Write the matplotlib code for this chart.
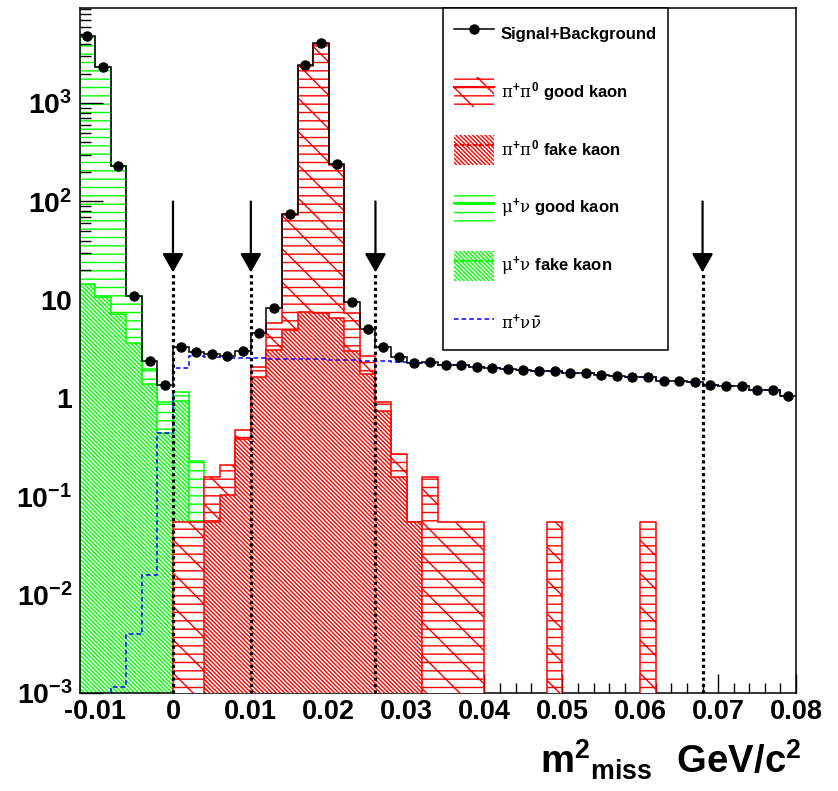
import numpy as np
import matplotlib
matplotlib.use("Agg")
import matplotlib.pyplot as plt
from matplotlib.patches import Patch
from matplotlib.lines import Line2D
from matplotlib.ticker import MultipleLocator, LogLocator, NullFormatter

plt.rcParams['font.family'] = ['Liberation Sans', 'DejaVu Sans']
plt.rcParams['font.weight'] = 'bold'
plt.rcParams['mathtext.fontset'] = 'custom'
plt.rcParams['mathtext.rm'] = 'Liberation Sans:bold'
plt.rcParams['mathtext.bf'] = 'Liberation Sans:bold'
plt.rcParams['mathtext.it'] = 'DejaVu Serif:normal'
plt.rcParams['hatch.linewidth'] = 1.0

# binning: 46 bins of 0.002 GeV^2/c^4 from -0.012 to 0.080
bin_lo, bin_w, n_bins = -0.012, 0.002, 46

# visible heights of each histogram (events per bin)
sig_bkg = [4830, 2320, 230, 11.0, 2.37, 1.36, 3.33, 2.92, 2.79, 2.68,
           3.01, 4.63, 8.19, 75, 2430, 4130, 239, 9.43, 5.0, 3.29,
           2.6, 2.29, 2.35, 2.17, 2.17, 2.09, 2.04, 1.99, 1.95, 1.90,
           1.90, 1.79, 1.79, 1.72, 1.68, 1.63, 1.63, 1.49, 1.50, 1.45,
           1.35, 1.32, 1.33, 1.20, 1.20, 1.06]
pinunu = [0, 0, 0.00115, 0.004, 0.0158, 0.44, 2.01, 2.65, 2.6, 2.58,
          2.55, 2.53, 2.52, 2.5, 2.48, 2.47, 2.45, 2.43, 2.4, 2.38,
          2.33, 2.29, 2.3, 2.17, 2.17, 2.09, 2.04, 1.99, 1.95, 1.90,
          1.90, 1.79, 1.79, 1.72, 1.68, 1.63, 1.63, 1.49, 1.50, 1.45,
          1.35, 1.32, 1.33, 1.20, 1.20, 1.06]
pipi0_good = [0, 0, 0, 0, 0, 0, 0.055, 0.055, 0.159, 0.209,
              0.473, 2.09, 5.77, 73, 2410, 4000, 235, 7.3, 2.68, 0.92,
              0.268, 0.055, 0.159, 0.055, 0.055, 0.055, 0, 0, 0, 0,
              0.055, 0, 0, 0, 0, 0, 0.055, 0, 0, 0,
              0, 0, 0, 0, 0, 0]
pipi0_fake = [0, 0, 0, 0, 0, 0, 0, 0, 0.055, 0.103,
              0.38, 1.65, 3.08, 4.93, 7.57, 7.3, 6.5, 3.0, 1.76, 0.745,
              0.159, 0.055, 0, 0, 0, 0, 0, 0, 0, 0,
              0, 0, 0, 0, 0, 0, 0, 0, 0, 0,
              0, 0, 0, 0, 0, 0]
munu_good = [4750, 2320, 231, 10.9, 2.0, 0.92, 1.16, 0.227, 0, 0] + [0] * 36
munu_fake = [14.4, 10.6, 7.2, 3.6, 1.39, 0.44, 0.93, 0, 0, 0] + [0] * 36

cuts = [0.0, 0.010, 0.026, 0.068]
arrow_top, arrow_tip = 100, 19

xticks = [-0.01, 0, 0.01, 0.02, 0.03, 0.04, 0.05, 0.06, 0.07, 0.08]
xticklabels = ['-0.01', '0', '0.01', '0.02', '0.03', '0.04', '0.05', '0.06', '0.07', '0.08']
yticks = [1e-3, 1e-2, 1e-1, 1, 10, 1e2, 1e3]
yticklabels = [r'$10^{-3}$', r'$10^{-2}$', r'$10^{-1}$', r'$1$', r'$10$', r'$10^{2}$', r'$10^{3}$']

labels = ['Signal+Background',
          r'$\pi^{+}\pi^{0}$ good kaon',
          r'$\pi^{+}\pi^{0}$ fake kaon',
          r'$\mu^{+}\nu$ good kaon',
          r'$\mu^{+}\nu$ fake kaon',
          r'$\pi^{+}\nu\bar{\nu}$']

edges = np.round(bin_lo + bin_w * np.arange(n_bins + 1), 4)
centers = 0.5 * (edges[:-1] + edges[1:])
floor = 1e-6


def clip(v):
    return np.clip(np.asarray(v, dtype=float), floor, None)


GREEN = '#00ff00'
RED = '#ff0000'
good_hatch = '\\--'
fake_hatch = '\\' * 8

fig = plt.figure(figsize=(8.38, 7.91), dpi=100)
ax = fig.add_axes([0.0949, 0.1239, 0.855, 0.866])

ax.stairs(clip(munu_good), edges, baseline=floor, fill=True, facecolor='white',
          edgecolor=GREEN, hatch='--', lw=1.1, zorder=1)
ax.stairs(clip(munu_fake), edges, baseline=floor, fill=True, facecolor='white',
          edgecolor=GREEN, hatch=fake_hatch, lw=1.1, zorder=2)
ax.stairs(clip(pipi0_good), edges, baseline=floor, fill=True, facecolor='white',
          edgecolor=RED, hatch=good_hatch, lw=1.1, zorder=3)
ax.stairs(clip(pipi0_fake), edges, baseline=floor, fill=True, facecolor='white',
          edgecolor=RED, hatch=fake_hatch, lw=1.1, zorder=4)
ax.stairs(clip(pinunu), edges, baseline=None, color='#0000ff', ls=(0, (3, 2)),
          lw=1.1, zorder=5)
ax.stairs(sig_bkg, edges, baseline=None, color='k', lw=1.1, zorder=6)
ax.plot(centers, sig_bkg, 'o', color='k', ms=6.5, zorder=7)

for c in cuts:
    ax.plot([c, c], [1e-3, arrow_tip], color='k', ls=(0, (1, 1)), lw=2.3,
            dash_capstyle='butt', zorder=8)
    ax.annotate('', xy=(c, arrow_tip), xytext=(c, arrow_top),
                arrowprops=dict(arrowstyle='-|>,head_length=1.15,head_width=0.65',
                                color='k', lw=1.6, shrinkA=0, shrinkB=0,
                                mutation_scale=10),
                zorder=9)

ax.set_yscale('log')
ax.set_xlim(-0.012, 0.080)
ax.set_ylim(1e-3, 9300)

ax.set_xticks(xticks, labels=xticklabels)
ax.xaxis.set_minor_locator(MultipleLocator(0.002))
ax.set_yticks(yticks, labels=yticklabels)
ax.yaxis.set_minor_locator(LogLocator(base=10, subs=range(2, 10)))
ax.yaxis.set_minor_formatter(NullFormatter())
ax.tick_params(which='both', direction='in', top=False, right=False, width=1.0)
ax.tick_params(axis='x', which='major', length=14, labelsize=19.5, pad=4)
ax.tick_params(axis='x', which='minor', length=7)
ax.tick_params(axis='y', which='major', length=16.5, labelsize=20.5, pad=5)
ax.tick_params(axis='y', which='minor', length=8)
for s in ax.spines.values():
    s.set_linewidth(1.1)

ax.set_xlabel(r'$\mathbf{m^{2}{}_{miss}\ \ GeV/c^{2}}$', fontsize=27.5, ha='right', va='top')
ax.xaxis.set_label_coords(1.008, -0.066)

handles = [Line2D([], [], color='k', marker='o', ms=6.5, lw=1.1),
           (Patch(facecolor='white', edgecolor=RED, hatch=good_hatch, lw=0),
            Line2D([], [], color=RED, lw=1.5)),
           (Patch(facecolor='white', edgecolor=RED, hatch=fake_hatch, lw=0),
            Line2D([], [], color=RED, lw=1.5, ls=(0, (2, 1)))),
           (Patch(facecolor='white', edgecolor=GREEN, hatch='--', lw=0),
            Line2D([], [], color=GREEN, lw=1.5)),
           (Patch(facecolor='white', edgecolor=GREEN, hatch=fake_hatch, lw=0),
            Line2D([], [], color=GREEN, lw=1.5, ls=(0, (2, 1)))),
           Line2D([], [], color='#0000ff', lw=1.1, ls=(0, (3, 2)))]
leg = ax.legend(handles, labels, loc='upper left', bbox_to_anchor=(0.507, 1.0),
                borderaxespad=0, frameon=True, fancybox=False, edgecolor='k',
                framealpha=1, fontsize=12, handlelength=2.4, handleheight=2.4,
                labelspacing=1.68, handletextpad=0.42, borderpad=0.65)
leg.get_frame().set_linewidth(1.1)
leg.set_zorder(10)

fig.savefig('out.png', dpi=100)
